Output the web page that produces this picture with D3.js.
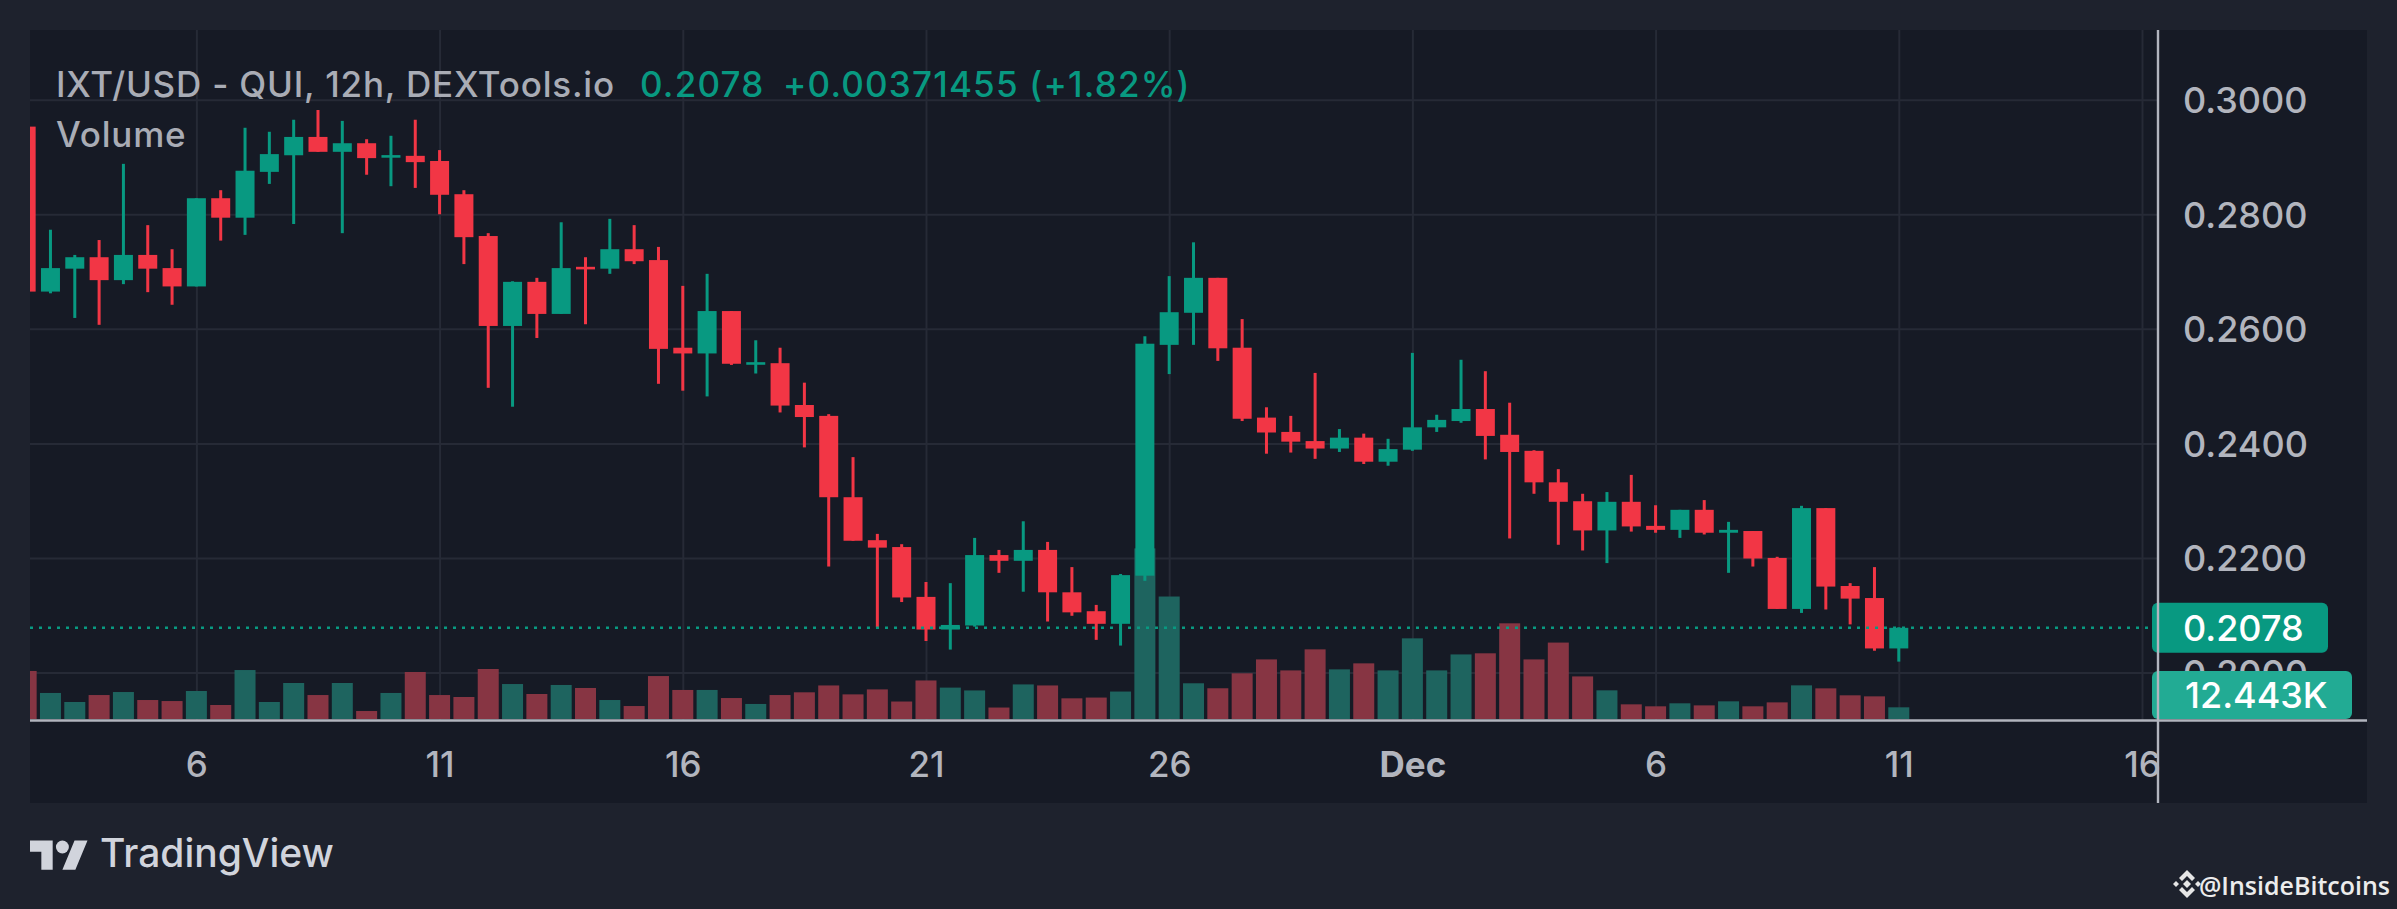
<!DOCTYPE html>
<html><head><meta charset="utf-8">
<script src="https://cdn.jsdelivr.net/npm/d3@7"></script>
<style>
html,body{margin:0;padding:0;background:#1e222d;}
svg{display:block;font-family:Inter,"Noto Sans",sans-serif;}
</style></head><body>
<svg id="chart" width="2397" height="909"></svg>
<script>
// ---------------- DATA ----------------
const times = [
"2023-11-02 12","2023-11-03 00","2023-11-03 12","2023-11-04 00","2023-11-04 12","2023-11-05 00","2023-11-05 12",
"2023-11-06 00","2023-11-06 12","2023-11-07 00","2023-11-07 12","2023-11-08 00","2023-11-08 12","2023-11-09 00",
"2023-11-09 12","2023-11-10 00","2023-11-10 12","2023-11-11 00","2023-11-11 12","2023-11-12 00","2023-11-12 12",
"2023-11-13 00","2023-11-13 12","2023-11-14 00","2023-11-14 12","2023-11-15 00","2023-11-15 12","2023-11-16 00",
"2023-11-16 12","2023-11-17 00","2023-11-17 12","2023-11-18 00","2023-11-18 12","2023-11-19 00","2023-11-19 12",
"2023-11-20 00","2023-11-20 12","2023-11-21 00","2023-11-21 12","2023-11-22 00","2023-11-22 12","2023-11-23 00",
"2023-11-23 12","2023-11-24 00","2023-11-24 12","2023-11-25 00","2023-11-25 12","2023-11-26 00","2023-11-26 12",
"2023-11-27 00","2023-11-27 12","2023-11-28 00","2023-11-28 12","2023-11-29 00","2023-11-29 12","2023-11-30 00",
"2023-11-30 12","2023-12-01 00","2023-12-01 12","2023-12-02 00","2023-12-02 12","2023-12-03 00","2023-12-03 12",
"2023-12-04 00","2023-12-04 12","2023-12-05 00","2023-12-05 12","2023-12-06 00","2023-12-06 12","2023-12-07 00",
"2023-12-07 12","2023-12-08 00","2023-12-08 12","2023-12-09 00","2023-12-09 12","2023-12-10 00","2023-12-10 12",
"2023-12-11 00"];
const open = [
0.2953,0.2665,0.2705,0.2725,0.2685,0.2729,0.2706,0.2674,0.2828,0.2794,
0.2874,0.2903,0.2935,0.2909,0.2924,0.2900,0.2902,0.2893,0.2835,0.2762,
0.2605,0.2682,0.2626,0.2708,0.2705,0.2739,0.2720,0.2567,0.2557,0.2631,
0.2538,0.2540,0.2467,0.2448,0.2306,0.2231,0.2219,0.2132,0.2075,0.2082,
0.2205,0.2195,0.2214,0.2140,0.2107,0.2085,0.2169,0.2572,0.2628,0.2689,
0.2567,0.2445,0.2420,0.2404,0.2391,0.2410,0.2368,0.2389,0.2428,0.2439,
0.2460,0.2415,0.2387,0.2332,0.2299,0.2248,0.2298,0.2256,0.2249,0.2284,
0.2244,0.2247,0.2200,0.2111,0.2287,0.2151,0.2130,0.2042];
const high = [
0.2960,0.2773,0.2729,0.2755,0.2888,0.2781,0.2739,0.2828,0.2842,0.2951,
0.2944,0.2965,0.2982,0.2963,0.2931,0.2937,0.2965,0.2912,0.2842,0.2767,
0.2683,0.2689,0.2786,0.2725,0.2792,0.2781,0.2743,0.2675,0.2696,0.2631,
0.2580,0.2567,0.2506,0.2451,0.2376,0.2242,0.2224,0.2158,0.2156,0.2235,
0.2214,0.2264,0.2228,0.2184,0.2118,0.2172,0.2587,0.2692,0.2751,0.2689,
0.2617,0.2463,0.2448,0.2523,0.2425,0.2417,0.2408,0.2558,0.2450,0.2546,
0.2526,0.2471,0.2388,0.2355,0.2312,0.2315,0.2345,0.2292,0.2284,0.2301,
0.2263,0.2247,0.2202,0.2291,0.2287,0.2156,0.2184,0.2079];
const low = [
0.2660,0.2662,0.2619,0.2607,0.2678,0.2664,0.2642,0.2674,0.2754,0.2764,
0.2853,0.2783,0.2909,0.2767,0.2869,0.2849,0.2846,0.2800,0.2713,0.2497,
0.2464,0.2584,0.2626,0.2608,0.2696,0.2713,0.2504,0.2492,0.2482,0.2537,
0.2522,0.2454,0.2393,0.2185,0.2230,0.2079,0.2123,0.2055,0.2040,0.2080,
0.2174,0.2141,0.2089,0.2099,0.2057,0.2047,0.2160,0.2521,0.2572,0.2544,
0.2439,0.2382,0.2384,0.2373,0.2385,0.2364,0.2361,0.2387,0.2420,0.2436,
0.2372,0.2234,0.2312,0.2223,0.2213,0.2191,0.2246,0.2244,0.2235,0.2241,
0.2174,0.2185,0.2111,0.2104,0.2110,0.2084,0.2038,0.2019];
const close = [
0.2665,0.2706,0.2725,0.2685,0.2729,0.2705,0.2674,0.2828,0.2794,0.2876,
0.2905,0.2935,0.2909,0.2924,0.2898,0.2902,0.2891,0.2834,0.2760,0.2605,
0.2682,0.2626,0.2706,0.2704,0.2739,0.2718,0.2565,0.2557,0.2631,0.2539,
0.2541,0.2466,0.2446,0.2306,0.2230,0.2218,0.2131,0.2075,0.2083,0.2205,
0.2195,0.2214,0.2140,0.2105,0.2085,0.2170,0.2574,0.2629,0.2689,0.2566,
0.2443,0.2419,0.2403,0.2391,0.2410,0.2368,0.2390,0.2428,0.2441,0.2460,
0.2413,0.2385,0.2332,0.2298,0.2248,0.2298,0.2255,0.2249,0.2284,0.2244,
0.2249,0.2199,0.2111,0.2287,0.2150,0.2129,0.2042,0.2078];
// volume in thousands
const volume = [
51.1,27.7,18.1,25.5,28.7,20.2,19.1,29.8,14.9,52.1,
18.1,38.3,25.5,38.3,8.5,27.7,50.0,25.5,23.4,53.2,
37.2,26.6,36.2,33.0,20.2,13.8,45.7,30.9,30.9,22.3,
16.0,25.5,28.4,35.7,26.2,31.5,18.6,41.0,33.4,30.4,
12.2,36.8,35.7,22.0,22.8,29.2,181.5,130.3,38.0,32.7,
48.6,63.4,51.7,74.1,52.8,59.2,51.7,85.8,51.7,68.7,
69.9,101.8,63.4,81.3,45.3,30.5,15.6,13.5,16.7,14.5,
18.8,13.5,17.7,35.8,32.6,25.2,24.1,12.443];
const priceTicks = [0.20,0.22,0.24,0.26,0.28,0.30];
const timeTicks = ["2023-11-06 00","2023-11-11 00","2023-11-16 00","2023-11-21 00","2023-11-26 00",
                   "2023-12-01 00","2023-12-06 00","2023-12-11 00","2023-12-16 00"];
const timeTickLabels = ["6","11","16","21","26","Dec","6","11","16"];
const titleText = "IXT/USD - QUI, 12h, DEXTools.io";
const lastPriceText = "0.2078";
const changeText = "+0.00371455 (+1.82%)";
const lastVolumeText = "12.443K";

// ---------------- LAYOUT ----------------
const W = 2397, H = 909;
const panel = {x0:30, y0:30, x1:2367, y1:803};
const plot = {x0:30, x1:2158, y0:30, y1:720};
const C = {
  outer:"#1e222d", panel:"#161a25", grid:"#262a36", axis:"#b2b5be", text:"#b2b5be", legend:"#a9acb5",
  up:"#089981", down:"#f23645", upVol:"#1e645f", downVol:"#873543", volBox:"#22ab94"
};
const parse = d3.utcParse("%Y-%m-%d %H");
const data = times.map((t,i)=>({t:parse(t), o:open[i], h:high[i], l:low[i], c:close[i], v:volume[i]}));

const x = d3.scaleUtc()
  .domain([parse("2023-11-02 00").getTime()+ (13+54/60)*3600e3, parse("2023-12-16 00").getTime() + (7+54/60)*3600e3])
  .range([plot.x0, plot.x1]);
const y = d3.scaleLinear().domain([0.20, 0.30]).range([672.5, 99.7]);
const yv = d3.scaleLinear().domain([0, 200]).range([719, 531]);

const bodyW = 19, volW = 21, wickW = 3;
const svg = d3.select("#chart");
svg.append("rect").attr("width",W).attr("height",H).attr("fill",C.outer);
svg.append("rect").attr("x",panel.x0).attr("y",panel.y0)
  .attr("width",panel.x1-panel.x0).attr("height",panel.y1-panel.y0).attr("fill",C.panel);

const defs = svg.append("defs");
defs.append("clipPath").attr("id","clip").append("rect")
  .attr("x",plot.x0).attr("y",plot.y0).attr("width",plot.x1-plot.x0).attr("height",plot.y1-plot.y0);

// grid
const gridX = svg.append("g").attr("transform",`translate(0,${plot.y1})`)
  .call(d3.axisBottom(x).tickValues(timeTicks.map(parse)).tickSize(-(plot.y1-plot.y0)).tickFormat(""));
gridX.select(".domain").remove();
gridX.selectAll("line").attr("stroke",C.grid).attr("stroke-width",2);
const gridY = svg.append("g").attr("transform",`translate(${plot.x0},0)`)
  .call(d3.axisRight(y).tickValues(priceTicks).tickSize(plot.x1-plot.x0).tickFormat(""));
gridY.select(".domain").remove();
gridY.selectAll("line").attr("stroke",C.grid).attr("stroke-width",2);

const g = svg.append("g").attr("clip-path","url(#clip)");
// volume
g.selectAll("rect.vol").data(data).join("rect").attr("class","vol")
  .attr("x",d=>x(d.t)-volW/2).attr("width",volW)
  .attr("y",d=>yv(d.v)).attr("height",d=>yv(0)-yv(d.v))
  .attr("fill",d=>d.c>=d.o?C.upVol:C.downVol);
// wicks
g.selectAll("rect.wick").data(data).join("rect").attr("class","wick")
  .attr("x",d=>x(d.t)-wickW/2).attr("width",wickW)
  .attr("y",d=>y(d.h)).attr("height",d=>Math.max(1,y(d.l)-y(d.h)))
  .attr("fill",d=>d.c>=d.o?C.up:C.down);
// bodies
g.selectAll("rect.body").data(data).join("rect").attr("class","body")
  .attr("x",d=>x(d.t)-bodyW/2).attr("width",bodyW)
  .attr("y",d=>{const t=y(Math.max(d.o,d.c)), b=y(Math.min(d.o,d.c)); return b-t<2.6 ? (t+b)/2-1.3 : t;})
  .attr("height",d=>Math.max(2.6, y(Math.min(d.o,d.c))-y(Math.max(d.o,d.c))))
  .attr("fill",d=>d.c>=d.o?C.up:C.down);

// last price dotted line
const last = data[data.length-1];
svg.append("line").attr("x1",plot.x0).attr("x2",plot.x1).attr("y1",y(last.c)).attr("y2",y(last.c))
  .attr("stroke",C.up).attr("stroke-width",2.6).attr("stroke-dasharray","3 6");

// price axis labels
const yAxis = svg.append("g").attr("transform",`translate(${plot.x1},0)`)
  .call(d3.axisRight(y).tickValues(priceTicks).tickSize(0).tickPadding(25).tickFormat(d3.format(".4f")));
yAxis.select(".domain").remove();
yAxis.selectAll("text").attr("fill",C.text).attr("font-size",36).attr("font-family","Inter,sans-serif")
  .attr("font-weight",500).attr("dy","0.36em");

// last price box
const lpY = y(last.c);
svg.append("rect").attr("x",plot.x1-6).attr("y",lpY-25).attr("width",176).attr("height",50).attr("rx",6).attr("fill",C.up);
svg.append("text").attr("x",plot.x1+25).attr("y",lpY).attr("dy","0.36em").attr("fill","#ffffff")
  .attr("font-size",36).attr("font-weight",500).text(lastPriceText);
// volume box
const vbY = Math.min(yv(last.v), plot.y1-25);
svg.append("rect").attr("x",plot.x1-6).attr("y",vbY-24).attr("width",200).attr("height",48).attr("rx",6).attr("fill",C.volBox);
svg.append("text").attr("x",plot.x1+27).attr("y",vbY).attr("dy","0.36em").attr("fill","#ffffff")
  .attr("font-size",36).attr("font-weight",500).text(lastVolumeText);

// time axis labels
const xAxis = svg.append("g").attr("transform",`translate(0,${plot.y1})`)
  .call(d3.axisBottom(x).tickValues(timeTicks.map(parse)).tickSize(0).tickPadding(32)
    .tickFormat((d,i)=>timeTickLabels[i]));
xAxis.select(".domain").remove();
xAxis.selectAll("text").attr("fill",C.text).attr("font-size",35).attr("font-family","Inter,sans-serif")
  .attr("font-weight",(d,i)=>timeTickLabels[i]==="Dec"?700:500);

// axis border lines
svg.append("line").attr("x1",panel.x0).attr("x2",panel.x1).attr("y1",plot.y1+0.5).attr("y2",plot.y1+0.5)
  .attr("stroke",C.axis).attr("stroke-width",2.4);
svg.append("line").attr("x1",plot.x1).attr("x2",plot.x1).attr("y1",panel.y0).attr("y2",panel.y1)
  .attr("stroke",C.axis).attr("stroke-width",2.4);

// legend
const leg = svg.append("text").attr("y",96.5).attr("font-size",35).attr("font-weight",500).attr("letter-spacing","0.8px");
leg.append("tspan").attr("x",56).attr("fill",C.legend).text(titleText);
leg.append("tspan").attr("x",640).attr("fill",C.up).attr("letter-spacing","1.2px").text(lastPriceText);
leg.append("tspan").attr("x",783).attr("fill",C.up).attr("letter-spacing","1.2px").text(changeText);
svg.append("text").attr("x",56).attr("y",146.5).attr("font-size",35).attr("font-weight",500)
  .attr("letter-spacing","0.8px").attr("fill",C.legend).text("Volume");

// footer: TradingView logo + text
const logo = svg.append("g").attr("transform","translate(30,834) scale(1.62)").attr("fill","#d1d4dc");
logo.append("path").attr("d","M14 22H7V11H0V4h14v18zM28 22h-8l7.5-18h8L28 22z");
logo.append("circle").attr("cx",20).attr("cy",8).attr("r",4);
svg.append("text").attr("x",100).attr("y",867).attr("font-size",39).attr("font-weight",500)
  .attr("fill","#d1d4dc").text("TradingView");

// watermark
const bl = svg.append("g").attr("transform","translate(2187,884)").attr("fill","#e6e6e6");
bl.append("path").attr("d","M0,-14 L8,-6 L5,-3 L0,-8 L-5,-3 L-8,-6 Z");
bl.append("path").attr("d","M0,14 L8,6 L5,3 L0,8 L-5,3 L-8,6 Z");
bl.append("path").attr("d","M0,-4 L4,0 L0,4 L-4,0 Z");
bl.append("path").attr("d","M-11,-3 L-8,0 L-11,3 L-14,0 Z");
bl.append("path").attr("d","M11,-3 L14,0 L11,3 L8,0 Z");
svg.append("text").attr("x",2390).attr("y",895).attr("text-anchor","end").attr("font-size",25)
  .attr("font-family","'Open Sans',sans-serif").attr("font-weight",600).attr("fill","#ececec").text("@InsideBitcoins");
</script>
</body></html>
